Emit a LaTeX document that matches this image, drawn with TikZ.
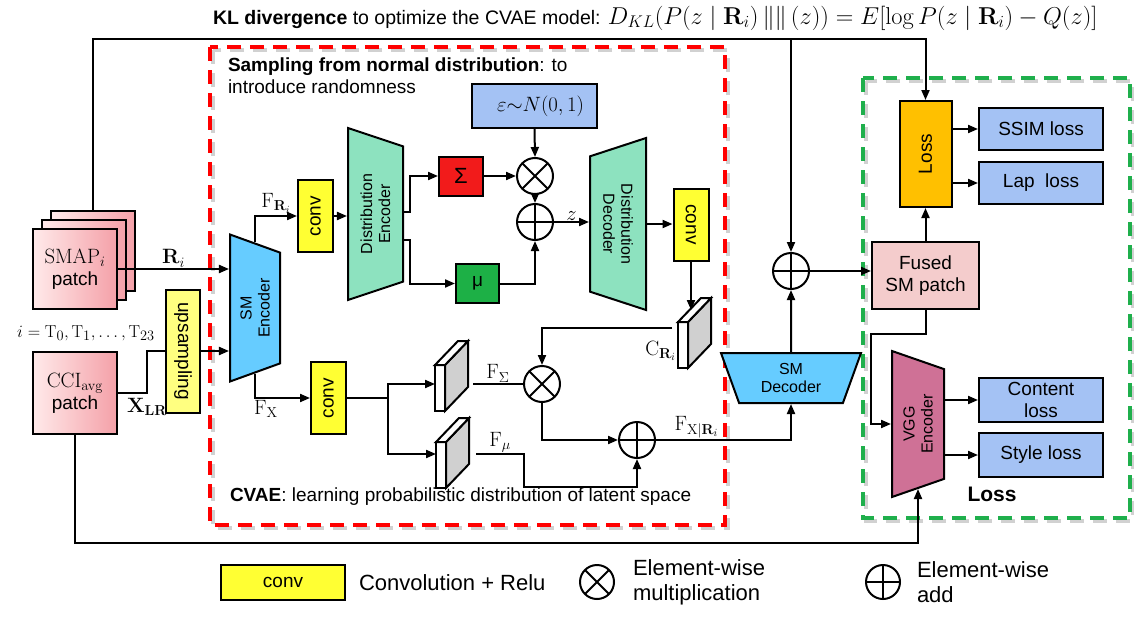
\documentclass[tikz,border=0pt]{standalone}
\usepackage[no-math]{fontspec}
\setmainfont{Liberation Sans}
\usetikzlibrary{shapes.geometric,arrows.meta,positioning}

\definecolor{smblue}{HTML}{66CCFF}
\definecolor{mint}{HTML}{8DE2BF}
\definecolor{convyellow}{HTML}{FFFF33}
\definecolor{upyellow}{HTML}{FFFF80}
\definecolor{sigred}{HTML}{F21B1B}
\definecolor{mugreen}{HTML}{1DB046}
\definecolor{epsblue}{HTML}{A4C2F4}
\definecolor{lossorange}{HTML}{FFC000}
\definecolor{fusedpink}{HTML}{F4CCCC}
\definecolor{vggpink}{HTML}{CF7196}
\definecolor{slabgray}{HTML}{D0D0D0}
\definecolor{patchL}{HTML}{FFEAEA}
\definecolor{patchR}{HTML}{F4A0A8}
\definecolor{cvaered}{HTML}{FF0000}
\definecolor{lossgreen}{HTML}{1FAF4C}

\newcommand{\boxfont}{\fontsize{19}{22}\selectfont}
\newcommand{\trapfont}{\fontsize{16}{18}\selectfont}
\newcommand{\mathlbl}{\fontsize{22}{24}\selectfont}

% feature map slab: white front face, grey side, named top point
\newcommand{\featmap}[3]{%
  \node[draw, fill=white, minimum width=10pt, minimum height=46pt, inner sep=0pt, outer sep=0pt] (#1) at (#2,#3) {};
  \draw[fill=slabgray] (#1.north east) -- ++(23,-24) -- ++(0,46) -- (#1.south east) -- cycle;
  \draw[fill=white] (#1.north west) -- ++(23,-24) -- ++(10,0) -- (#1.north east) -- cycle;
  \coordinate (#1top) at ([shift={(11,-12)}]#1.north);
}

\begin{document}
\begin{tikzpicture}[x=1pt, y=-1pt, line width=2pt, >={Triangle[length=10pt,width=8pt]},
    box/.style={draw, inner sep=1pt, align=center, font=\boxfont},
    conv/.style={box, fill=convyellow, minimum width=35pt, minimum height=72pt},
    patch/.style={box, left color=patchL, right color=patchR, minimum width=84pt, minimum height=80pt},
    trap/.style={box, trapezium, trapezium angle=120, trapezium stretches body, font=\trapfont},
    lossbox/.style={box, fill=epsblue, minimum width=124pt, minimum height=42pt},
    mul/.style={circle, draw, minimum size=36pt, inner sep=0pt,
      path picture={\draw (path picture bounding box.north west) -- (path picture bounding box.south east)
        (path picture bounding box.north east) -- (path picture bounding box.south west);}},
    add/.style={circle, draw, minimum size=36pt, inner sep=0pt,
      path picture={\draw (path picture bounding box.north) -- (path picture bounding box.south)
        (path picture bounding box.west) -- (path picture bounding box.east);}},
    lbl/.style={inner sep=1pt, font=\mathlbl},
    note/.style={inner sep=0pt, align=left, font=\boxfont},
    legend/.style={inner sep=0pt, align=left, font=\fontsize{22}{25}\selectfont},
    frame/.style={line width=3.5pt, dash pattern=on 14pt off 9pt}]
\useasboundingbox (0,0) rectangle (1134,618);

% dashed frames with a soft shadow
\draw[frame, black!18, shift={(3,3)}] (210,47) rectangle (725,525);
\draw[frame, black!18, shift={(3,3)}] (863,78) rectangle (1130,518);
\draw[frame, cvaered] (210,47) rectangle (725,525);
\draw[frame, lossgreen] (863,78) rectangle (1130,518);

\node[anchor=west, inner sep=0pt, font=\fontsize{19.5}{23}\selectfont] (kl) at (212,18)
  {\textbf{KL divergence} to optimize the CVAE model: {\fontsize{24}{26}\selectfont\scalebox{0.98}{$D_{KL}(P(z\mid\mathbf{R}_i)\,\Vert\Vert\,(z))=E[\log P(z\mid\mathbf{R}_i)-Q(z)]$}}};
\node[note, anchor=north west] (samp) at (227,57)
  {\textbf{Sampling from normal distribution}: to\\introduce randomness};
\node[note, anchor=west] (cvae) at (229,497)
  {\textbf{CVAE}: learning probabilistic distribution of latent space};

% inputs
\foreach \k in {2,1}
  \node[patch] (smap\k) at ({75+9*\k},{269-9*\k}) {};
\node[patch] (smap) at (75,269) {{\fontsize{22}{25}\selectfont$\mathrm{SMAP}_i$}\\patch};
\node[lbl, font=\fontsize{19}{22}\selectfont] (tset) at (86,333) {$i=\mathrm{T}_0,\mathrm{T}_1,\ldots,\mathrm{T}_{23}$};
\node[patch, minimum height=82pt] (cci) at (75,393) {{\fontsize{22}{25}\selectfont$\mathrm{CCI}_{\mathrm{avg}}$}\\patch};
\node[box, fill=upyellow, minimum width=34pt, minimum height=123pt] (ups) at (183,351) {\rotatebox{-90}{upsampling}};

% CVAE
\node[trap, fill=smblue, rotate=90, minimum width=147pt, minimum height=50pt] (smenc) at (255,308) {SM\\Encoder};
\node[conv] (conv1) at (315.5,216) {\rotatebox{90}{conv}};
\node[trap, fill=mint, rotate=90, minimum width=172pt, minimum height=55pt] (denc) at (375.5,214) {Distribution\\Encoder};
\node[box, fill=sigred, minimum width=44pt, minimum height=39pt] (sig) at (461,176) {\fontsize{22}{24}\selectfont Σ};
\node[box, fill=mugreen, minimum width=43pt, minimum height=39pt] (mu) at (477.5,283.5) {μ};
\node[box, fill=epsblue, minimum width=125pt, minimum height=44pt] (eps) at (534.5,106) {\hspace*{12pt}{\mathlbl$\varepsilon{\sim}N(0,1)$}};
\node[mul] (mul1) at (535,176) {};
\node[add] (add1) at (535,222) {};
\node[trap, fill=mint, rotate=-90, minimum width=172pt, minimum height=56pt] (ddec) at (618,224) {Distribution\\Decoder};
\node[conv] (conv2) at (691,224.5) {\rotatebox{-90}{conv}};
\featmap{cr}{683}{345}
\node[lbl, anchor=east] (crlab) at ([yshift=-6pt]cr.west) {$\mathrm{C}_{\mathbf{R}_i}$};
\node[conv] (conv3) at (328.5,398) {\rotatebox{90}{conv}};
\featmap{fs}{440}{388}
\featmap{fm}{441}{465}
\node[mul] (mul2) at (542,384) {};
\node[add] (add2) at (637,440) {};
\node[trap, fill=smblue, minimum width=140pt, minimum height=50pt] (smdec) at (791,378) {SM\\Decoder};
\node[add] (add3) at (791,271) {};

% losses
\node[box, fill=fusedpink, minimum width=107pt, minimum height=67pt] (fused) at (925.5,275.5) {Fused\\SM patch};
\node[box, fill=lossorange, minimum width=52pt, minimum height=106pt] (loss) at (925.5,154) {\rotatebox{90}{Loss}};
\node[lossbox] (ssim) at (1041,129) {SSIM loss};
\node[lossbox] (lap) at (1041,183) {Lap\ \ loss};
\node[trap, fill=vggpink, rotate=90, minimum width=146pt, minimum height=52pt] (vgg) at (918,424) {VGG\\Encoder};
\node[lossbox, minimum height=44pt] (content) at (1041,400) {Content\\loss};
\node[lossbox, minimum height=44pt] (style) at (1041,455) {Style loss};
\node[inner sep=0pt, font=\fontsize{21}{24}\selectfont\bfseries] (losstitle) at (992,494) {Loss};

% connections
\coordinate (split) at (791,39);
\draw[->] (smap2.north) |- (split) -| (loss.north);
\draw[->] (split) -- (add3.north);
\draw[->] (smap.east) -- (smap.east -| smenc.north) node[lbl, midway, above] {$\mathbf{R}_i$};
\draw (cci.east) -- ++(29,0) node[lbl, below=3pt] {$\mathbf{X}_{\mathbf{LR}}$} |- (ups.west);
\draw[->] (ups.east) -- (ups.east -| smenc.north);
\draw[->] (smenc.east) |- (conv1.west) node[lbl, pos=0.75, above=1pt] {$\mathrm{F}_{\mathbf{R}_i}$};
\draw[->] (conv1.east) -- (conv1.east -| denc.north);
\draw[->] ([yshift=2pt]denc.south) -- ++(6,0) |- (sig.west);
\draw[->] ([yshift=-26pt]denc.south) -- ++(6,0) |- (mu.west);
\draw[->] (eps.south) -- (mul1.north);
\draw[->] (sig.east) -- (mul1.west);
\draw[->] (mul1.south) -- (add1.north);
\draw[->] (mu.east) -| (add1.south);
\draw[->] (add1.east) -- (add1.east -| ddec.south) node[lbl, midway, above] {$z$};
\draw[->] (ddec.north) -- (ddec.north -| conv2.west);
\draw[->] (conv2.south) -- (conv2.south |- crtop);
\draw[->] ([shift={(-6,-17)}]cr.west) -| (mul2.north);
\draw[->] (smenc.west) |- (conv3.west) node[lbl, pos=0.6, below] {$\mathrm{F}_{\mathrm{X}}$};
\draw[->] (conv3.east) -- ++(41,0) |- ([yshift=4pt]fs.west);
\draw[->] (conv3.east) -- ++(41,0) |- ([yshift=11pt]fm.west);
\draw ([shift={(28,-4)}]fs.east) -- (mul2.west) node[lbl, midway, above] {$\mathrm{F}_{\Sigma}$};
\draw[->] ([shift={(30,-11)}]fm.east) -- ++(48,0) node[lbl, midway, above] {$\mathrm{F}_{\mu}$} -- ++(0,33) -| (add2.south);
\draw[->] (mul2.south) |- (add2.west);
\draw[->] (add2.east) -| (smdec.south) node[lbl, pos=0.15, above] {$\mathrm{F}_{\mathrm{X}|\mathbf{R}_i}$};
\draw[->] (smdec.north) -- (add3.south);
\draw[->] (add3.east) -- (add3.east -| fused.west);
\draw[->] (fused.north) -- (loss.south);
\draw[->] (loss.east |- ssim.west) -- (ssim.west);
\draw[->] (loss.east |- lap.west) -- (lap.west);
\draw[->] (fused.south) -- ++(0,24) -| ([xshift=-20pt]vgg.north) -- (vgg.north);
\draw[->] (vgg.south |- content.west) -- (content.west);
\draw[->] (vgg.south |- style.west) -- (style.west);
\draw[->] (cci.south) -- ++(0,108) -| (vgg.west);

% legend
\node[box, fill=convyellow, minimum width=124pt, minimum height=35pt] (legconv) at (283,582.5) {conv};
\node[legend, right=12pt of legconv] (legconvtxt) {Convolution + Relu};
\node[mul, minimum size=34pt] (legmul) at (597,582) {};
\node[legend, right=17pt of legmul] (legmultxt) {Element-wise\\multiplication};
\node[add, minimum size=34pt] (legadd) at (883,582) {};
\node[legend, right=15pt of legadd] (legaddtxt) {Element-wise\\add};
\end{tikzpicture}
\end{document}
